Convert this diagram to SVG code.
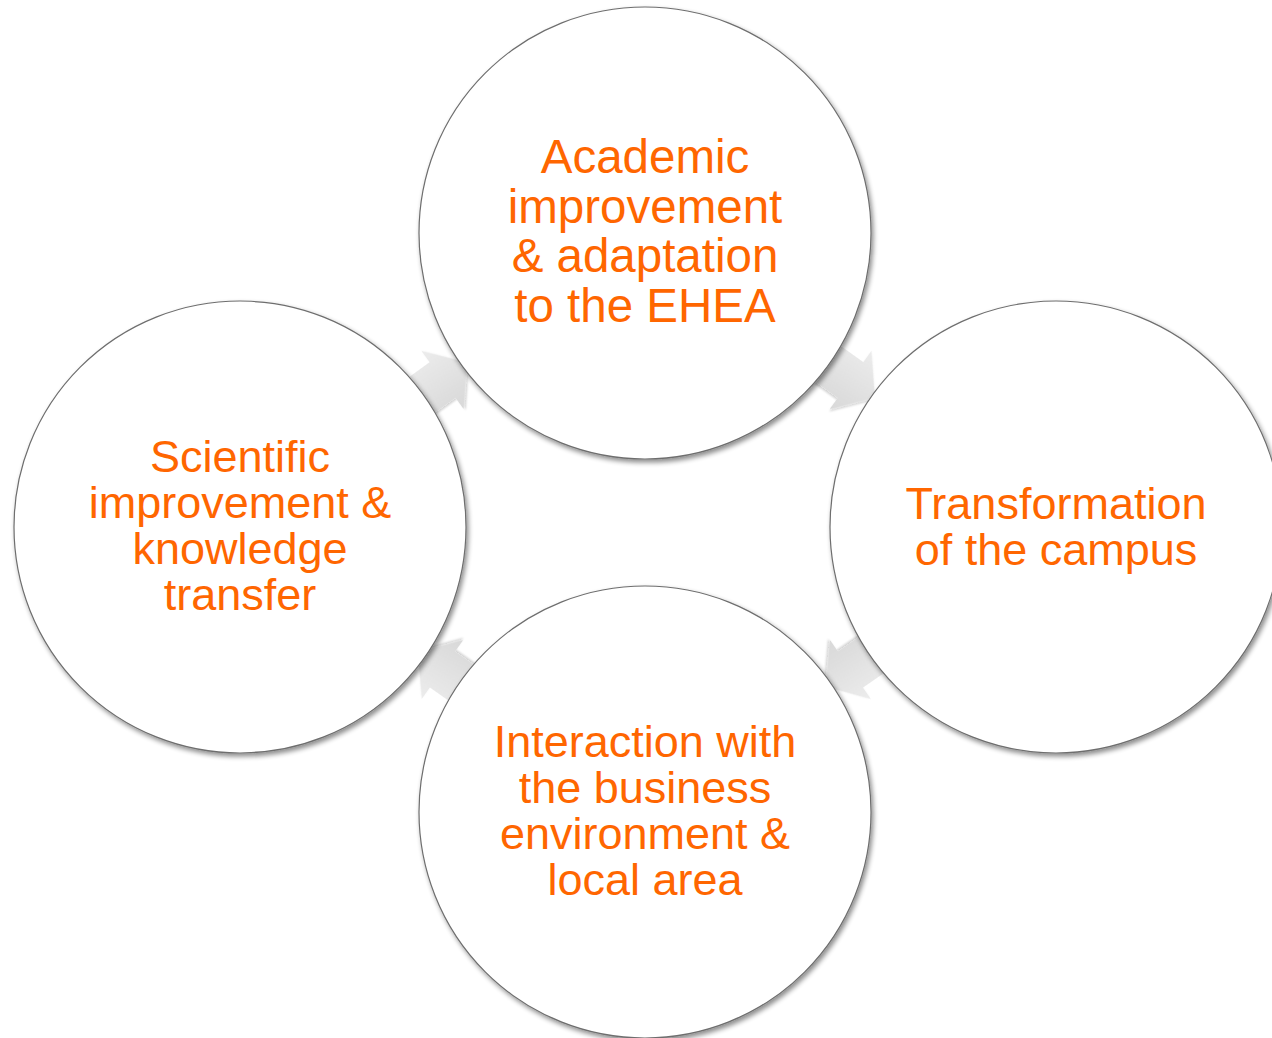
<svg xmlns="http://www.w3.org/2000/svg" width="1272" height="1038" viewBox="0 0 1272 1038">
  <defs>
    <filter id="shadow" x="-10%" y="-10%" width="125%" height="125%">
      <feGaussianBlur in="SourceAlpha" stdDeviation="2.5"/>
      <feOffset dx="2" dy="3" result="b"/>
      <feComponentTransfer><feFuncA type="linear" slope="0.45"/></feComponentTransfer>
      <feMerge><feMergeNode/><feMergeNode in="SourceGraphic"/></feMerge>
    </filter>
    <filter id="ashadow" x="-30%" y="-30%" width="160%" height="160%">
      <feGaussianBlur in="SourceAlpha" stdDeviation="1.3"/>
      <feOffset dx="1" dy="2" result="b"/>
      <feComponentTransfer><feFuncA type="linear" slope="0.18"/></feComponentTransfer>
      <feMerge><feMergeNode/><feMergeNode in="SourceGraphic"/></feMerge>
    </filter>
    <linearGradient id="agrad" x1="0" y1="0" x2="0" y2="1">
      <stop offset="0" stop-color="#ececec"/>
      <stop offset="1" stop-color="#d8d8d8"/>
    </linearGradient>
    <polygon id="arrow" points="-32,-22 0,-22 0,-36 30,0 0,36 0,22 -32,22"/>
  </defs>
  <style>
    .node circle { fill: #ffffff; stroke: #6e6e6e; stroke-width: 1.2; filter: url(#shadow); }
    .node text { font-family: "Liberation Sans", Arial, sans-serif; fill: #FF6600; text-anchor: middle; }
    .t1 { font-size: 47.5px; }
    .t2 { font-size: 45px; }
    .conn use { fill: url(#agrad); filter: url(#ashadow); }
  </style>
  <rect width="1272" height="1038" fill="#ffffff"/>
  <g id="connectors" class="conn">
    <use href="#arrow" transform="translate(442.5,380) rotate(-36)"/>
    <use href="#arrow" transform="translate(850.5,380) rotate(35.6)"/>
    <use href="#arrow" transform="translate(850.5,669.5) rotate(145.3)"/>
    <use href="#arrow" transform="translate(442.5,669.5) rotate(-144.9)"/>
  </g>
  <g id="node-academic" class="node">
    <circle cx="645" cy="233" r="226"/>
    <text class="t1" x="645" y="173">Academic</text>
    <text class="t1" x="645" y="222.5">improvement</text>
    <text class="t1" x="645" y="272">&amp; adaptation</text>
    <text class="t1" x="645" y="321.5">to the EHEA</text>
  </g>
  <g id="node-campus" class="node">
    <circle cx="1056" cy="527" r="226"/>
    <text class="t2" x="1056" y="519">Transformation</text>
    <text class="t2" x="1056" y="565">of the campus</text>
  </g>
  <g id="node-business" class="node">
    <circle cx="645" cy="812" r="226"/>
    <text class="t2" x="645" y="757">Interaction with</text>
    <text class="t2" x="645" y="803">the business</text>
    <text class="t2" x="645" y="849">environment &amp;</text>
    <text class="t2" x="645" y="895">local area</text>
  </g>
  <g id="node-scientific" class="node">
    <circle cx="240" cy="527" r="226"/>
    <text class="t2" x="240" y="472">Scientific</text>
    <text class="t2" x="240" y="518">improvement &amp;</text>
    <text class="t2" x="240" y="564">knowledge</text>
    <text class="t2" x="240" y="610">transfer</text>
  </g>
</svg>
